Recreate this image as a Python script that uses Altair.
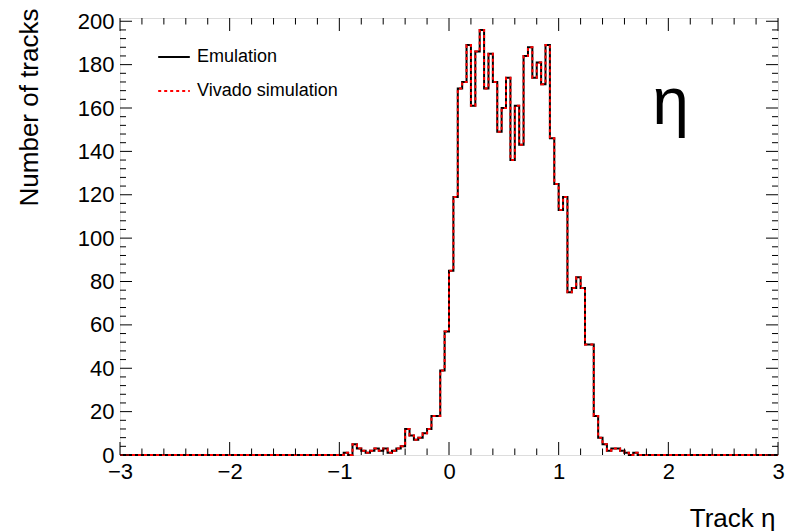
import altair as alt
import pandas as pd

# ---------------- data ----------------
BIN_WIDTH = 0.04
X_MIN, X_MAX = -3.0, 3.0
N_BINS = 150
LEAD_EMPTY_BINS = 50          # bins from -3.00 up to -1.04 are empty

series_names = ["Emulation", "Vivado simulation"]

# counts for bins starting at eta = -1.00, -0.96, ... , 1.72
emulation_core = [
    0, 1, 0, 5, 3, 2, 1, 2, 3, 2,
    3, 1, 2, 3, 4, 12, 9, 7, 8, 10,
    12, 18, 18, 39, 57, 85, 119, 169, 172, 189,
    161, 186, 196, 169, 185, 172, 149, 160, 174, 136,
    161, 143, 184, 188, 174, 181, 171, 189, 146, 125,
    113, 119, 75, 77, 82, 77, 51, 51, 18, 8,
    5, 2, 3, 3, 2, 1, 0, 1, 0,
]
vivado_core = [
    0, 1, 0, 5, 3, 2, 1, 2, 3, 2,
    3, 1, 2, 3, 4, 12, 9, 7, 8, 10,
    12, 18, 18, 39, 57, 85, 119, 169, 172, 189,
    161, 186, 196, 169, 185, 172, 149, 160, 174, 136,
    161, 143, 184, 188, 174, 181, 171, 189, 146, 125,
    113, 119, 75, 77, 82, 77, 51, 51, 18, 8,
    5, 2, 3, 3, 2, 1, 0, 1, 0,
]

x_major = [-3, -2, -1, 0, 1, 2, 3]
x_minor = [round(-3 + 0.2 * i, 2) for i in range(31) if i % 5 != 0]
y_major = [0, 20, 40, 60, 80, 100, 120, 140, 160, 180, 200]
y_minor = [v for v in range(0, 201, 4) if v % 20 != 0]

annotation = ["η"]

# ---------------- table ----------------
rows = []
for name, core in zip(series_names, [emulation_core, vivado_core]):
    vals = [0] * LEAD_EMPTY_BINS + core
    vals += [0] * (N_BINS - len(vals))
    for i, v in enumerate(vals):
        rows.append({"series": name, "eta": round(X_MIN + i * BIN_WIDTH, 4), "count": v})
    rows.append({"series": name, "eta": X_MAX, "count": vals[-1]})
df = pd.DataFrame(rows)

W, H = 658, 437
FONT = "Liberation Sans"
xs = alt.Scale(domain=[X_MIN, X_MAX], nice=False, zero=False)
ys = alt.Scale(domain=[0, 201.5], nice=False, zero=False)

legend = alt.Legend(
    title=None, orient="none", legendX=37, legendY=22,
    symbolType="stroke", symbolSize=1000, symbolStrokeWidth=2,
    labelFontSize=18, labelFont=FONT, labelColor="black",
    rowPadding=8, labelOffset=6,
)

hist = alt.Chart(df).mark_line(interpolate="step-after", strokeWidth=2).encode(
    x=alt.X("eta:Q", scale=xs, axis=alt.Axis(
        values=x_major, ticks=False, tickSize=0, domain=False, grid=False,
        labelFontSize=22, labelFont=FONT, labelColor="black", labelPadding=6,
        labelFlush=False, labelOverlap=False,
        title="Track η", titleFontSize=26, titleFont=FONT, titleFontWeight="normal",
        titleColor="black", titleAnchor="end", titleAlign="right",
        titleBaseline="alphabetic", titleX=W - 3, titleY=71,
    )),
    y=alt.Y("count:Q", scale=ys, axis=alt.Axis(
        values=y_major, ticks=False, tickSize=0, domain=False, grid=False,
        labelFontSize=22, labelFont=FONT, labelColor="black", labelPadding=6,
        labelOverlap=False,
        title="Number of tracks", titleFontSize=26, titleFont=FONT,
        titleFontWeight="normal", titleColor="black", titleAnchor="end",
        titleAlign="right", titleBaseline="alphabetic", titleAngle=270,
        titleX=-83, titleY=-10,
    )),
    color=alt.Color("series:N", scale=alt.Scale(domain=series_names, range=["#000000", "#ff0000"]), legend=legend),
    strokeDash=alt.StrokeDash("series:N", scale=alt.Scale(domain=series_names, range=[[1, 0], [3, 3]]), legend=legend),
)


def xticks(values, length, top):
    d = pd.DataFrame({"v": values})
    y0 = 0 if top else H
    y1 = length if top else H - length
    return alt.Chart(d).mark_rule(color="black", strokeWidth=1).encode(
        x=alt.X("v:Q", scale=xs, axis=None), y=alt.value(y0), y2=alt.value(y1))


def yticks(values, length, right):
    d = pd.DataFrame({"v": values})
    x0 = W if right else 0
    x1 = W - length if right else length
    return alt.Chart(d).mark_rule(color="black", strokeWidth=1).encode(
        y=alt.Y("v:Q", scale=ys, axis=None), x=alt.value(x0), x2=alt.value(x1))


tick_layers = [
    xticks(x_major, 13, False), xticks(x_minor, 6.5, False),
    xticks(x_major, 13, True), xticks(x_minor, 6.5, True),
    yticks(y_major, 12, False), yticks(y_minor, 6, False),
    yticks(y_major, 12, True), yticks(y_minor, 6, True),
]

eta_df = pd.DataFrame({"eta": [2.02], "count": [152.6], "label": annotation})
eta_text = alt.Chart(eta_df).mark_text(
    fontSize=66, font=FONT, color="black", align="center", baseline="alphabetic"
).encode(x=alt.X("eta:Q", scale=xs, axis=None), y=alt.Y("count:Q", scale=ys, axis=None), text="label:N")

chart = alt.layer(hist, *tick_layers, eta_text).resolve_axis(
    x="independent", y="independent"
).properties(
    width=W, height=H,
    autosize=alt.AutoSizeParams(type="none"),
    padding={"left": 120, "top": 18, "right": 8, "bottom": 76},
    background="white",
).configure_view(stroke="black", strokeWidth=1).configure(font=FONT)

chart.save("out.html", embed_options={"renderer": "svg", "actions": False})
